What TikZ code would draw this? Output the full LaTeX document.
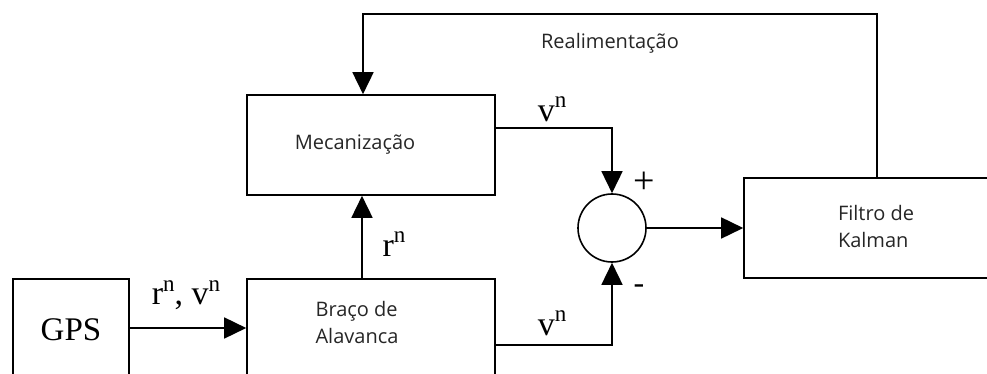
\documentclass[tikz,border=0pt]{standalone}
\usepackage{fontspec}
\setmainfont{Liberation Serif}
\newfontfamily\labelsans{Open Sans}
\usetikzlibrary{arrows.meta}

% variable with superscript n
\newcommand{\withn}[1]{#1\raisebox{0.40em}{\fontsize{23}{23}\selectfont n}}

\begin{document}
\begin{tikzpicture}[x=1pt,y=-1pt,
  line width=1.6pt,
  blockbox/.style={draw, line width=1.6pt, inner sep=0pt},
  boxtext/.style={font=\labelsans\fontsize{20}{27}\selectfont, align=left, inner sep=0pt, text=black!85},
  sigtext/.style={font=\fontsize{34}{34}\selectfont, inner sep=0pt},
  flow/.style={-{Triangle[length=22pt,width=21pt]}, line width=1.6pt},
  sumnode/.style={draw, circle, line width=1.6pt, minimum size=68pt, inner sep=0pt}
]
\useasboundingbox (0,0) rectangle (987,374);

% blocks
\node[blockbox, minimum width=116pt, minimum height=115pt] (gps) at (71,336.5) {};
\node[font=\fontsize{33}{33}\selectfont, inner sep=0pt] (gpstext) at (71,330) {GPS};

\node[blockbox, minimum width=248pt, minimum height=115pt] (braco) at (371,336.5) {};
\node[boxtext] (bracotext) at (357,322) {Braço de\\Alavanca};

\node[blockbox, minimum width=248pt, minimum height=100pt] (mec) at (371,145) {};
\node[boxtext] (mectext) at (355,145) {Mecanização};

\node[blockbox, minimum width=264pt, minimum height=100pt] (kal) at (876,228) {};
\node[boxtext] (kaltext) at (876,226) {Filtro de\\Kalman};

\node[sumnode] (sum) at (612,228) {};

% corner points of the wiring
\coordinate (fbR) at (877,14);
\coordinate (fbL) at (363,14);
\coordinate (vtop) at (612,128);
\coordinate (vbot) at (612,345);

% connections
\draw[flow] (gps.east |- 0,328) -- (braco.west |- 0,328);
\draw[flow] (braco.north -| 362,0) -- (mec.south -| 362,0);
\draw[flow] (mec.east |- vtop) -- (vtop) -- (sum.north);
\draw[flow] (braco.east |- vbot) -- (vbot) -- (sum.south);
\draw[flow] (sum.east) -- (kal.west);
\draw[flow] (kal.north -| fbR) -- (fbR) -- (fbL) -- (mec.north -| fbL);

% signal labels
\node[sigtext] (lrv) at (186,295) {\withn{r}, \withn{v}};
\node[sigtext] (lr) at (394,244) {\withn{r}};
\node[sigtext] (lvtop) at (552,109) {\withn{v}};
\node[sigtext] (lvbot) at (552,323) {\withn{v}};
\node[font=\fontsize{38}{38}\selectfont, inner sep=0pt] (plus) at (644,183) {+};
\node[font=\fontsize{32}{32}\selectfont, inner sep=0pt] (minus) at (639,289) {-};
\node[boxtext] (feedback) at (610,43) {Realimentação};
\end{tikzpicture}
\end{document}
